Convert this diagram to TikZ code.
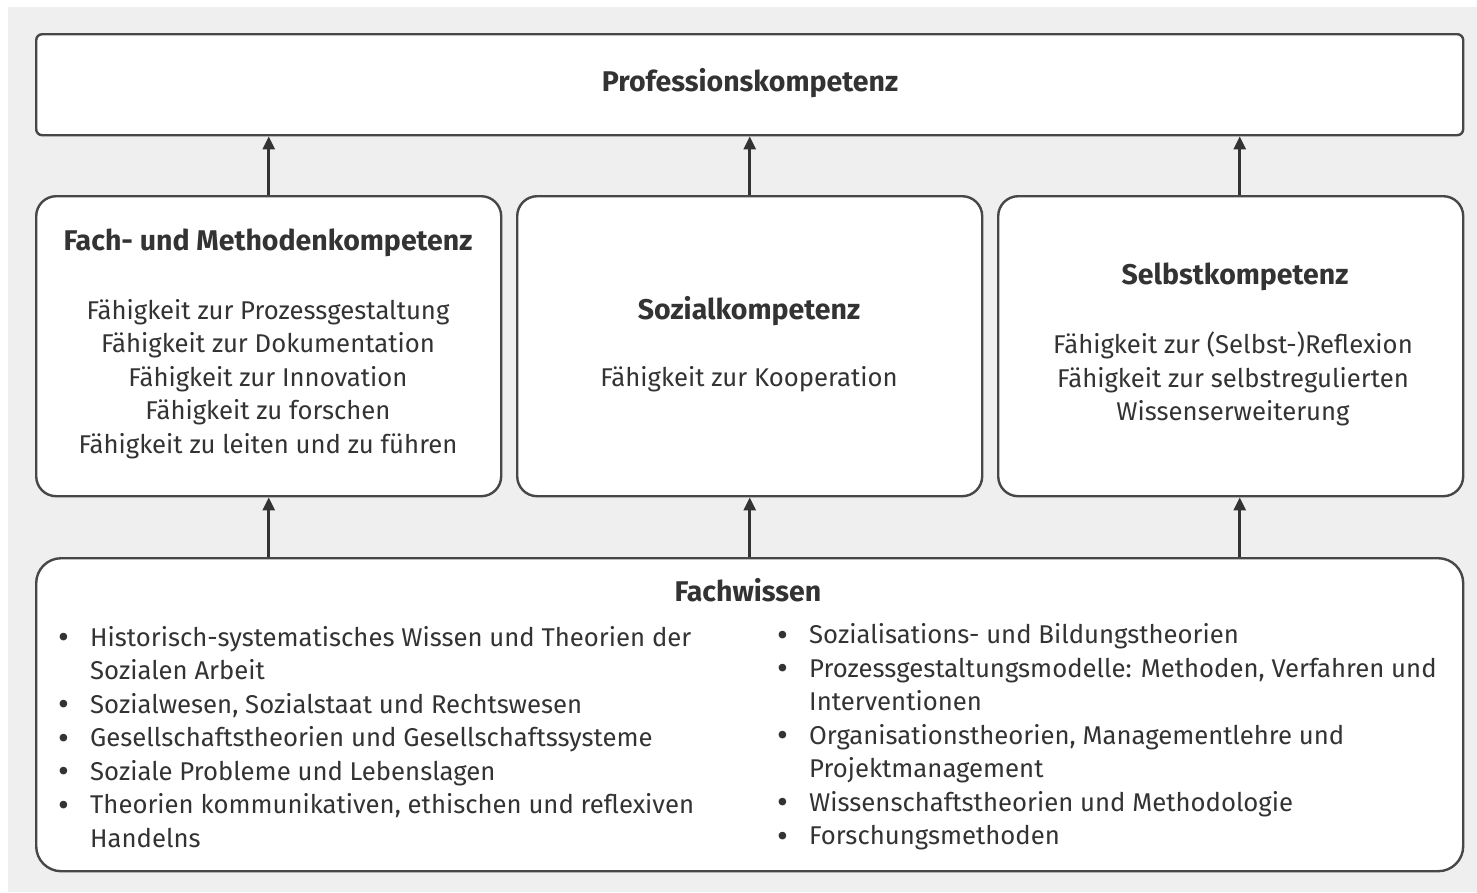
\documentclass[tikz,border=0pt]{standalone}
\usepackage{fontspec}
\setmainfont{Fira Sans}
\usetikzlibrary{positioning,arrows.meta}

\definecolor{bggray}{HTML}{EFEFEF}
\definecolor{boxline}{HTML}{474747}
\definecolor{txtgray}{HTML}{333333}

\newcommand{\itm}{\makebox[32pt][l]{\raisebox{-0.1em}{\scalebox{1.3}{\textbullet}}}}
\newcommand{\cnt}{\hspace*{32pt}}

\begin{document}
\begin{tikzpicture}
	[
		x=1pt, y=-1pt,
		box/.style = {shape=rectangle, draw=boxline, line width=2.4pt, fill=white, anchor=north west, inner sep=0pt},
		topbox/.style = {box, rounded corners=6pt, minimum width=1427pt, minimum height=101pt},
		midbox/.style = {box, rounded corners=20pt, minimum width=465pt, minimum height=300pt},
		lowbox/.style = {box, rounded corners=25pt, minimum width=1427pt, minimum height=313pt},
		title/.style = {font=\fontsize{28.5}{33}\selectfont\bfseries, text=txtgray, inner sep=0pt},
		lines/.style = {font=\fontsize{25.7}{33.5}\selectfont, text=txtgray, inner sep=0pt, align=center},
		items/.style = {font=\fontsize{25.7}{33.5}\selectfont, text=txtgray, inner sep=0pt, align=left, anchor=west},
		arr/.style = {draw=txtgray, line width=2.6pt, -{Triangle[length=13pt, width=12pt]}}
	]
	
	\useasboundingbox (0,0) rectangle (1477,892);
	\fill [bggray] (8,7) rectangle (1477,892);
	
	% boxes
	\node [topbox] (pk) at (35,33) {};
	\node [midbox] (fmk) at (35,195) {};
	\node [midbox] (sozk) at (516,195) {};
	\node [midbox] (selk) at (997,195) {};
	\node [lowbox] (fw) at (35,557) {};
	
	% arrows
	\draw [arr] (fmk.north) -- (fmk.north |- pk.south);
	\draw [arr] (sozk.north) -- (sozk.north |- pk.south);
	\draw [arr] ([xshift=9pt]selk.north) -- ([xshift=9pt]selk.north |- pk.south);
	
	\draw [arr] (fw.north -| fmk.south) -- (fmk.south);
	\draw [arr] (fw.north -| sozk.south) -- (sozk.south);
	\draw [arr] ([xshift=9pt]fw.north -| selk.south) -- ([xshift=9pt]selk.south);
	
	% texts
	\node [title] (pkt) at (750,83) {Professionskompetenz};
	
	\node [title] (fmkt) at (268,243) {Fach- und Methodenkompetenz};
	\node [lines] (fmkl) at (268,379) {Fähigkeit zur Prozessgestaltung\\Fähigkeit zur Dokumentation\\Fähigkeit zur Innovation\\Fähigkeit zu forschen\\Fähigkeit zu leiten und zu führen};
	
	\node [title] (sozkt) at (749,311) {Sozialkompetenz};
	\node [lines] (sozkl) at (749,379) {Fähigkeit zur Kooperation};
	
	\node [title] (selkt) at (1235,277) {Selbstkompetenz};
	\node [lines] (selkl) at (1233,379) {Fähigkeit zur (Selbst-)Reflexion\\Fähigkeit zur selbstregulierten\\Wissenserweiterung};
	
	\node [title] (fwt) at (748,590) {Fachwissen};
	\node [items] (fwl) at (58,737) {\itm Historisch-systematisches Wissen und Theorien der\\\cnt Sozialen Arbeit\\\itm Sozialwesen, Sozialstaat und Rechtswesen\\\itm Gesellschaftstheorien und Gesellschaftssysteme\\\itm Soziale Probleme und Lebenslagen\\\itm Theorien kommunikativen, ethischen und reflexiven\\\cnt Handelns};
	\node [items] (fwr) at (777,737) {\itm Sozialisations- und Bildungstheorien\\\itm Prozessgestaltungsmodelle: Methoden, Verfahren und\\\cnt Interventionen\\\itm Organisationstheorien, Managementlehre und\\\cnt Projektmanagement\\\itm Wissenschaftstheorien und Methodologie\\\itm Forschungsmethoden};
	
\end{tikzpicture}
\end{document}
